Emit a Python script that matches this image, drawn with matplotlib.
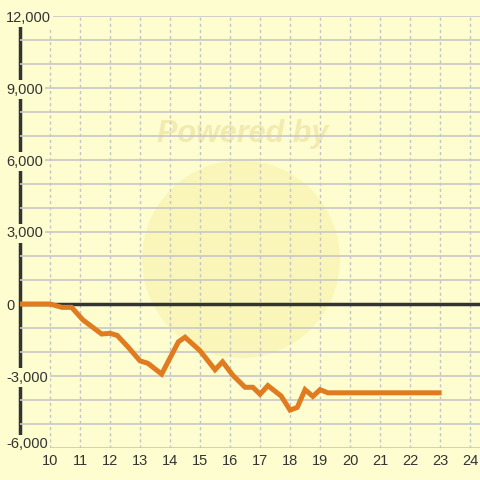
import matplotlib.pyplot as plt
import matplotlib.transforms as mtransforms
from matplotlib.ticker import FixedLocator, MultipleLocator
from matplotlib.patches import Circle

# time of day (hours) and running result
hours = [9.0, 10.0, 10.4, 10.72, 11.1, 11.72, 12.0, 12.24, 12.6, 13.0, 13.26,
         13.72, 14.28, 14.5, 15.0, 15.5, 15.75, 16.1, 16.5, 16.76, 17.0, 17.26,
         17.7, 18.0, 18.24, 18.5, 18.76, 19.0, 19.26, 23.05]
values = [0, 0, -140, -140, -667, -1250, -1220, -1310, -1790, -2370, -2470,
          -2920, -1575, -1385, -1950, -2740, -2410, -2980, -3470, -3470, -3760,
          -3400, -3830, -4420, -4310, -3570, -3850, -3570, -3700, -3700]
x_ticks = list(range(10, 25))
y_ticks = [-6000, -3000, 0, 3000, 6000, 9000, 12000]

bg = '#fdfdd0'
txt = '#333333'
plt.rcParams['font.family'] = ['Liberation Sans', 'DejaVu Sans']

fig = plt.figure(figsize=(4.8, 4.8), dpi=100)
fig.patch.set_facecolor(bg)
ax = fig.add_axes([20 / 480, 32 / 480, 1 - 20 / 480, 432 / 480])
ax.set_facecolor(bg)

# faint watermark, under the grid
ax.add_patch(Circle((0.502, 0.46), 0.206, transform=fig.transFigure,
                    facecolor='#f9f0a8', alpha=0.6, edgecolor='none', zorder=0.5,
                    clip_on=False))
ax.text(0.505, 0.72, 'Powered by', transform=fig.transFigure, ha='center',
        va='center', fontsize=22, fontweight='bold', style='italic',
        color='#f3eaae', zorder=0.6)

ax.set_xlim(9, 24.33)
ax.set_ylim(-6000, 12000)

ax.xaxis.set_major_locator(FixedLocator(x_ticks))
ax.yaxis.set_major_locator(FixedLocator(y_ticks))
ax.yaxis.set_minor_locator(MultipleLocator(1000))

ax.grid(axis='y', which='both', color='#c8c8c8', linewidth=1.2)
ax.grid(axis='x', which='major', color='#c4c4c4', linewidth=1, linestyle=(0, (2.2, 2.2)))

for s in ['top', 'right', 'bottom']:
    ax.spines[s].set_visible(False)
ax.spines['left'].set_color('#333333')
ax.spines['left'].set_linewidth(2.5)
ax.spines['left'].set_zorder(1)

ax.tick_params(axis='both', which='both', length=0, labelsize=10.5, labelcolor=txt)
ax.tick_params(axis='x', pad=4.5)
ax.tick_params(axis='y', labelleft=False)

# y labels sit on the axis line, left aligned, with a background box
ytrans = mtransforms.blended_transform_factory(fig.transFigure, ax.transData)
for v in y_ticks:
    ax.text(6 / 480, v, f'{v:,}', transform=ytrans, ha='left',
            va='baseline' if v == y_ticks[0] else 'center_baseline',
            fontsize=10.5, color=txt, zorder=4, clip_on=False,
            bbox=dict(facecolor=bg, edgecolor='none', pad=1.5))

ax.axhline(0, color='#333333', linewidth=2.5, zorder=2)
ax.plot(hours, values, color='#e07b20', linewidth=3.6, solid_joinstyle='miter',
        solid_capstyle='butt', zorder=3)

fig.savefig('out.png', dpi=100, facecolor=bg)
